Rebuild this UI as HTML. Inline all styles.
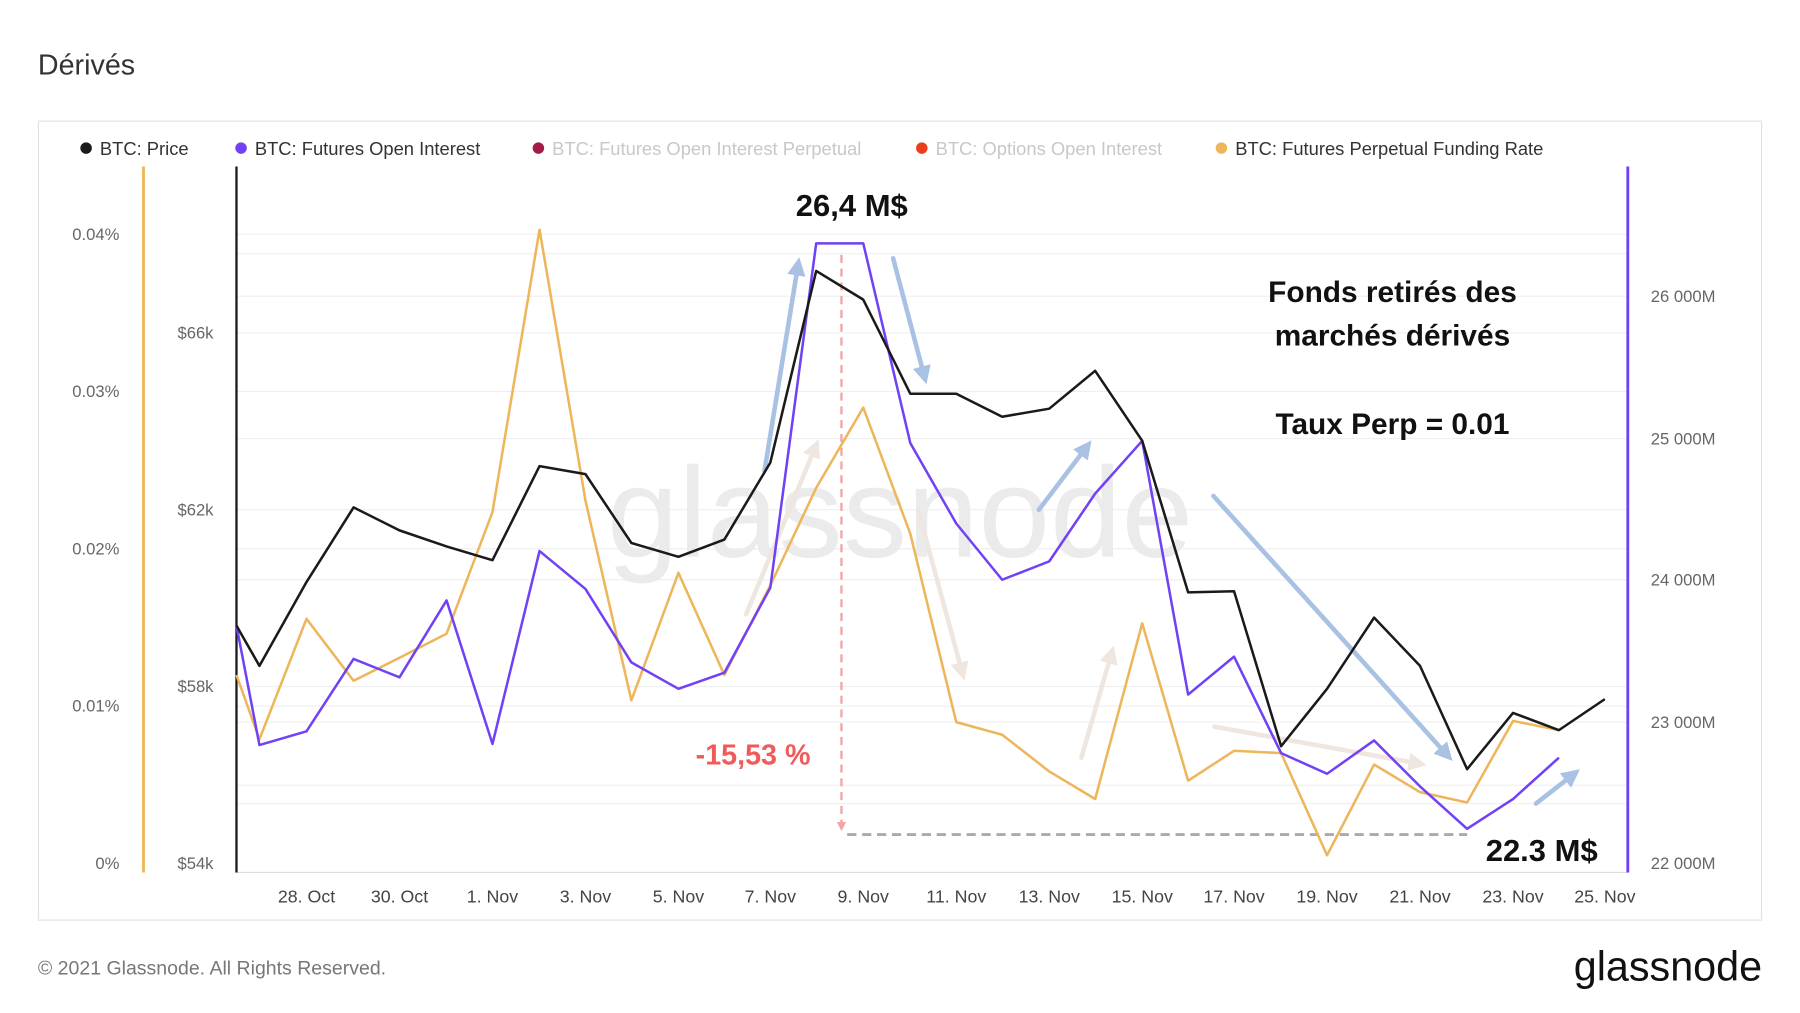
<!DOCTYPE html>
<html><head><meta charset="utf-8"><style>
html,body{margin:0;padding:0;background:#fff;width:1800px;height:1013px;overflow:hidden}
svg{display:block}
text{font-family:"Liberation Sans",sans-serif}
</style></head><body>
<svg width="1800" height="1013" viewBox="0 0 1568 882.4" preserveAspectRatio="none">
<defs>
<marker id="ab" markerWidth="4" markerHeight="4" refX="2" refY="2" orient="auto" markerUnits="strokeWidth"><path d="M0,0 L4,2 L0,4 z" fill="#a9c1e3"/></marker>
<marker id="ae" markerWidth="4" markerHeight="4" refX="2" refY="2" orient="auto" markerUnits="strokeWidth"><path d="M0,0 L4,2 L0,4 z" fill="#efe6df"/></marker>
<marker id="ar" markerWidth="4" markerHeight="4" refX="2" refY="2" orient="auto" markerUnits="strokeWidth"><path d="M0,0 L4,2 L0,4 z" fill="#f4a3a3"/></marker>
</defs>
<text x="33" y="65" font-size="25" fill="#333">Dérivés</text>
<rect x="33.5" y="105.5" width="1501" height="696" fill="none" stroke="#e2e2e2"/>
<g font-size="16">
<circle cx="75" cy="129" r="5" fill="#1a1a1a"/><text x="87" y="135" fill="#333">BTC: Price</text>
<circle cx="210" cy="129" r="5" fill="#7142f5"/><text x="222" y="135" fill="#333">BTC: Futures Open Interest</text>
<circle cx="469" cy="129" r="5" fill="#a31c45"/><text x="481" y="135" fill="#c8c8c8">BTC: Futures Open Interest Perpetual</text>
<circle cx="803" cy="129" r="5" fill="#e8401f"/><text x="815" y="135" fill="#c8c8c8">BTC: Options Open Interest</text>
<circle cx="1064" cy="129" r="5" fill="#edb65b"/><text x="1076" y="135" fill="#333">BTC: Futures Perpetual Funding Rate</text>
</g>
<g stroke="#efefef" stroke-width="1">
<line x1="206" x2="1418" y1="204" y2="204"/><line x1="206" x2="1418" y1="221" y2="221"/>
<line x1="206" x2="1418" y1="258" y2="258"/><line x1="206" x2="1418" y1="290" y2="290"/>
<line x1="206" x2="1418" y1="341" y2="341"/><line x1="206" x2="1418" y1="382" y2="382"/>
<line x1="206" x2="1418" y1="444" y2="444"/><line x1="206" x2="1418" y1="478" y2="478"/>
<line x1="206" x2="1418" y1="505" y2="505"/><line x1="206" x2="1418" y1="598" y2="598"/>
<line x1="206" x2="1418" y1="615" y2="615"/><line x1="206" x2="1418" y1="629" y2="629"/>
<line x1="206" x2="1418" y1="684" y2="684"/><line x1="206" x2="1418" y1="700" y2="700"/>
<line x1="206" x2="1418" y1="760" y2="760" stroke="#ddd"/>
</g>
<text x="784" y="485" font-size="112" fill="#ebebeb" text-anchor="middle">glassnode</text>
<line x1="125" y1="145" x2="125" y2="760" stroke="#edb65b" stroke-width="2.5"/>
<line x1="206" y1="145" x2="206" y2="760" stroke="#1a1a1a" stroke-width="2"/>
<line x1="1418" y1="145" x2="1418" y2="760" stroke="#7142f5" stroke-width="2.5"/>
<g font-size="14.5" fill="#666">
<text x="104" y="209" text-anchor="end">0.04%</text><text x="104" y="346" text-anchor="end">0.03%</text>
<text x="104" y="483" text-anchor="end">0.02%</text><text x="104" y="620" text-anchor="end">0.01%</text>
<text x="104" y="757" text-anchor="end">0%</text>
<text x="186" y="295" text-anchor="end">$66k</text><text x="186" y="449" text-anchor="end">$62k</text>
<text x="186" y="603" text-anchor="end">$58k</text><text x="186" y="757" text-anchor="end">$54k</text>
<text x="1438" y="263">26 000M</text><text x="1438" y="387">25 000M</text>
<text x="1438" y="510">24 000M</text><text x="1438" y="634">23 000M</text><text x="1438" y="757">22 000M</text>
</g>
<g font-size="15.5" fill="#444" text-anchor="middle">
<text x="267" y="786">28. Oct</text><text x="348" y="786">30. Oct</text><text x="429" y="786">1. Nov</text>
<text x="510" y="786">3. Nov</text><text x="591" y="786">5. Nov</text><text x="671" y="786">7. Nov</text>
<text x="752" y="786">9. Nov</text><text x="833" y="786">11. Nov</text><text x="914" y="786">13. Nov</text>
<text x="995" y="786">15. Nov</text><text x="1075" y="786">17. Nov</text><text x="1156" y="786">19. Nov</text>
<text x="1237" y="786">21. Nov</text><text x="1318" y="786">23. Nov</text><text x="1398" y="786">25. Nov</text>
</g>
<g stroke-width="4" fill="none" stroke-linecap="round">
<line x1="666" y1="410" x2="695" y2="232" stroke="#a9c1e3" marker-end="url(#ab)"/>
<line x1="778" y1="225" x2="805" y2="327" stroke="#a9c1e3" marker-end="url(#ab)"/>
<line x1="905" y1="444" x2="946" y2="390" stroke="#a9c1e3" marker-end="url(#ab)"/>
<line x1="1057" y1="432" x2="1260" y2="657" stroke="#a9c1e3" marker-end="url(#ab)"/>
<line x1="1338" y1="700" x2="1370" y2="675" stroke="#a9c1e3" marker-end="url(#ab)"/>
<line x1="650" y1="535" x2="710" y2="390" stroke="#efe6df" marker-end="url(#ae)"/>
<line x1="800" y1="445" x2="838" y2="585" stroke="#efe6df" marker-end="url(#ae)"/>
<line x1="942" y1="660" x2="968" y2="570" stroke="#efe6df" marker-end="url(#ae)"/>
<line x1="1058" y1="633" x2="1235" y2="665" stroke="#efe6df" marker-end="url(#ae)"/>
</g>
<line x1="733" y1="222" x2="733" y2="720" stroke="#f4a3a3" stroke-width="2" stroke-dasharray="7,5" marker-end="url(#ar)"/>
<line x1="738" y1="727" x2="1278" y2="727" stroke="#aaa" stroke-width="2.5" stroke-dasharray="8,5"/>
<g fill="none" stroke-width="2.2" stroke-linejoin="round">
<polyline stroke="#edb65b" points="206,588 226,644 267,539 308,593 348,573 389,552 429,446 470,200 510,436 550,610 591,499 631,588 671,510 711,425 752,355 793,465 833,629 873,640 914,672 954,696 995,543 1035,680 1075,654 1116,656 1156,745 1197,666 1237,690 1278,699 1318,628 1358,636"/>
<polyline stroke="#7142f5" points="206,545 226,649 267,637 308,574 348,590 389,523 429,648 470,480 510,513 550,577 591,600 631,586 671,512 711,212 752,212 793,386 833,456 873,505 914,489 954,430 995,384 1035,605 1075,572 1116,656 1156,674 1197,645 1237,685 1278,722 1318,696 1358,660"/>
<polyline stroke="#1a1a1a" points="206,545 226,580 267,507 308,442 348,462 389,476 429,488 470,406 510,413 550,473 591,485 631,470 671,403 711,236 752,261 793,343 833,343 873,363 914,356 954,323 995,384 1035,516 1075,515 1116,650 1156,600 1197,538 1237,580 1278,670 1318,621 1358,636 1398,609"/>
</g>
<g font-weight="bold" fill="#111" text-anchor="middle">
<text x="742" y="188" font-size="27">26,4 M$</text>
<text x="1213" y="263" font-size="26">Fonds retirés des</text>
<text x="1213" y="301" font-size="26">marchés dérivés</text>
<text x="1213" y="378" font-size="26">Taux Perp = 0.01</text>
<text x="1343" y="750" font-size="27">22.3 M$</text>
<text x="656" y="666" font-size="25" fill="#f25a5a">-15,53 %</text>
</g>
<text x="33" y="849" font-size="17" fill="#777">© 2021 Glassnode. All Rights Reserved.</text>
<text x="1535" y="854" font-size="36" fill="#111" text-anchor="end">glassnode</text>
</svg>
</body></html>
